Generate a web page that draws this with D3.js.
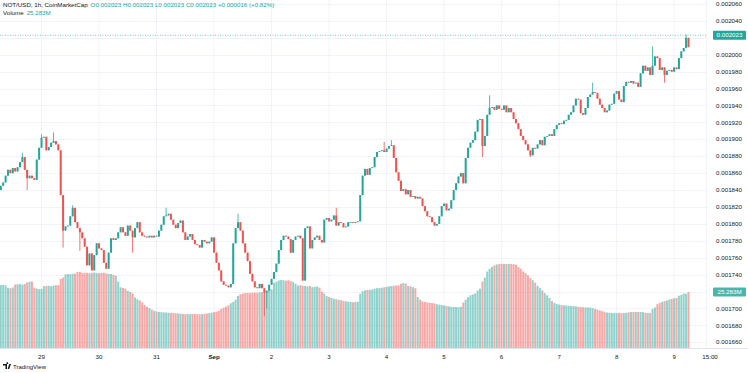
<!DOCTYPE html>
<html lang="en">
<head>
  <meta charset="utf-8">
  <title>NOT/USD, 1h, CoinMarketCap</title>
  <script src="https://cdn.jsdelivr.net/npm/d3@7"></script>
  <style>
    body { margin: 0; background: #fff; }
    svg { display: block; font-family: "Liberation Sans", Arial, sans-serif; }
  </style>
</head>
<body>
<div id="chart"></div>
<script>
// hourly closes, in millionths of a dollar (Aug 28 07:00 -> Sep 9 06:00)
var closes = [
  1845,1849,1857,1864,1860,1866,1862,1867,1873,1879,
  1864,1854,1857,1854,1852,1876,1890,1902,1903,1887,
  1891,1896,1898,1894,1887,1834,1792,1797,1798,1809,
  1819,1802,1795,1790,1783,1773,1751,1765,1745,1763,
  1777,1771,1769,1754,1747,1766,1783,1781,1783,1790,
  1796,1790,1786,1798,1792,1784,1795,1802,1790,1786,
  1785,1784,1786,1784,1786,1785,1792,1799,1809,1810,
  1812,1805,1799,1795,1801,1804,1790,1781,1785,1788,
  1781,1776,1775,1772,1781,1779,1777,1779,1784,1766,
  1754,1745,1732,1728,1727,1725,1729,1777,1795,1802,
  1792,1777,1766,1756,1741,1732,1725,1724,1729,1724,
  1719,1721,1728,1735,1743,1753,1769,1781,1786,1785,
  1782,1766,1781,1785,1786,1783,1733,1795,1797,1771,
  1781,1784,1786,1781,1778,1805,1807,1803,1805,1810,
  1798,1802,1801,1796,1797,1802,1802,1801,1802,1803,
  1834,1857,1865,1858,1866,1867,1879,1885,1886,1887,
  1885,1889,1892,1893,1878,1861,1851,1839,1841,1835,
  1840,1832,1833,1830,1832,1830,1821,1815,1809,1808,
  1802,1798,1800,1809,1821,1824,1816,1818,1828,1840,
  1848,1856,1860,1848,1878,1890,1896,1899,1909,1923,
  1924,1892,1904,1929,1937,1938,1935,1940,1936,1935,
  1940,1932,1937,1932,1924,1919,1912,1904,1899,1894,
  1887,1881,1890,1889,1894,1899,1893,1903,1904,1906,
  1904,1912,1917,1919,1918,1922,1923,1929,1932,1940,
  1948,1947,1931,1929,1937,1950,1953,1956,1955,1948,
  1941,1937,1932,1934,1941,1942,1954,1957,1947,1944,
  1963,1968,1967,1969,1966,1967,1962,1978,1987,1981,
  1985,1976,1987,1998,1996,1982,1985,1976,1981,1982,
  1980,1985,1983,1996,2004,2008,2020,2009
];
var firstOpen = 1840;

// the longer wicks (millionths), keyed by candle index
var highs = { 9: 1884, 17: 1906, 22: 1908, 30: 1822, 69: 1819, 99: 1812, 140: 1819, 160: 1897, 163: 1899, 204: 1952, 247: 1967, 272: 2010, 286: 2024 };
var lows = { 11: 1840, 26: 1772, 33: 1768, 55: 1766, 110: 1691, 111: 1700, 201: 1879, 221: 1879, 277: 1967 };

// volume, millions
var volumes = [
  28.4,28.5,28.3, 27.2,27.0,27.3, 28.7,28.8,28.9,28.6,28.9, 29.6,29.9,30.0, 27.2,
  26.8,26.6,26.7, 27.9,28.0,28.1,27.9,28.2,28.3,28.4, 31.2,31.8,
  33.2,33.4,33.3,33.5,33.6, 34.3,34.4,
  33.9,33.8,34.0,33.7,33.9,34.1,33.8,33.7,33.9,34.0,33.6,33.5,33.4,
  33.0,32.6, 30.0, 27.4,27.1,26.8, 25.8,25.3,24.6, 22.8,22.0,21.5,20.6,
  19.4,18.6,18.0,17.4, 16.8,16.5,16.3,16.2,16.1,16.0, 15.9,15.8,15.8,15.7,15.6,
  15.5,15.4,15.4,15.3,15.4,15.3,15.4,15.3,15.2,15.3,15.4,15.6,15.7,
  15.9,16.2,16.4,16.8, 17.6,18.2,18.7,19.3, 20.2,20.8,21.8,
  23.5,24.3,24.6,24.8,24.9,24.8,24.9,25.0,24.9, 25.2,25.3,25.4,25.5, 26.0,26.5,
  29.5,29.9, 30.5,30.7,30.6,30.4,30.6,30.2,29.8, 29.0,
  28.2,28.4,28.1,28.0,27.8,28.1,27.5,27.6,27.8,27.3, 25.4,24.6,
  23.4,23.0,22.6,22.2,22.0,21.8,21.6,21.3,21.1,20.9, 20.8,20.7,20.8,20.9, 24.5,
  25.6,26.0,26.2,26.3,26.4, 26.8,27.0,27.1,27.2,27.4,27.6, 27.8,28.0,28.1,28.2,28.3,
  29.0,29.3,29.1, 28.0,27.8,27.5,27.0, 23.0,21.8,
  21.0,20.8,20.6,20.4,20.3,20.1, 19.8,19.6,19.4,19.2,19.0,18.8,
  18.6,18.5,18.5,18.4,18.6, 20.5,21.8, 23.0,23.8,24.2,24.6, 26.0,26.8, 30.0,31.8,
  34.5,35.8,36.6, 37.3,37.7,37.9,38.0,38.0,37.9,38.0,37.9,37.8,37.6, 36.6,35.8,
  34.6,33.8,32.8, 31.5,30.6,29.5, 28.0,27.0,26.0, 24.8,23.8,22.6, 21.2,20.4,19.9,
  19.6,19.4,19.3,19.2,19.1,19.0,18.9,18.8, 18.6,18.5,18.4,18.3,18.3,18.2,18.0,
  17.6,17.3,17.0,16.6, 16.2,16.0,15.9,15.8,15.8,15.7,15.8,15.7,15.8,15.9,
  16.1,16.2,16.3,16.3,16.2,16.3,16.2, 15.9,15.8,15.8, 17.6,18.3,
  19.8,20.4,20.8,21.2,21.5, 21.9,22.2,22.4,22.6, 23.6,24.0, 24.6,24.5,25.283
];

var priceTicks = [0.00166, 0.00168, 0.0017, 0.00172, 0.00174, 0.00176, 0.00178, 0.0018, 0.00182,
  0.00184, 0.00186, 0.00188, 0.0019, 0.00192, 0.00194, 0.00196, 0.00198, 0.002, 0.00202, 0.00204, 0.00206];
var dayTicks = ["2023-08-29", "2023-08-30", "2023-08-31", "2023-09-01", "2023-09-02", "2023-09-03",
  "2023-09-04", "2023-09-05", "2023-09-06", "2023-09-07", "2023-09-08", "2023-09-09"];
var dayLabels = ["29", "30", "31", "Sep", "2", "3", "4", "5", "6", "7", "8", "9"];
var lastPrice = 0.002023;
var lastVolume = 25.283;

var W = 748, H = 373;
var plotRight = 706, plotBottom = 348;
var up = "#26a69a", down = "#ef5350";

var t0 = Date.UTC(2023, 7, 28, 7);
var candles = closes.map(function(c, i) {
  var o = i === 0 ? firstOpen : closes[i - 1];
  var h = highs[i] !== undefined ? highs[i] : Math.max(o, c);
  var l = lows[i] !== undefined ? lows[i] : Math.min(o, c);
  return { t: new Date(t0 + i * 3600e3), o: o / 1e6, h: h / 1e6, l: l / 1e6, c: c / 1e6, v: volumes[i] };
});

var x = d3.scaleUtc()
    .domain([candles[0].t, candles[candles.length - 1].t])
    .range([0.8, 688.5]);
var y = d3.scaleLinear().domain([0.00166, 0.00206]).range([342.3, 4]);
var yVol = d3.scaleLinear().domain([0, lastVolume]).range([plotBottom, 292]);

var svg = d3.select("#chart").append("svg")
    .attr("width", W)
    .attr("height", H);

// grid
var dayDates = dayTicks.map(function(d) { return new Date(d + "T00:00:00Z"); });
svg.append("g").selectAll("line.v")
    .data(dayDates)
  .enter().append("line")
    .attr("x1", function(d) { return x(d); })
    .attr("x2", function(d) { return x(d); })
    .attr("y1", 0).attr("y2", plotBottom)
    .attr("stroke", "#f0f3fa");
svg.append("g").selectAll("line.h")
    .data(priceTicks)
  .enter().append("line")
    .attr("x1", 0).attr("x2", plotRight)
    .attr("y1", function(d) { return Math.round(y(d)) + 0.5; })
    .attr("y2", function(d) { return Math.round(y(d)) + 0.5; })
    .attr("stroke", "#f0f3fa");

// volume
svg.append("g").selectAll("rect")
    .data(candles)
  .enter().append("rect")
    .attr("x", function(d) { return x(d.t) - 1; })
    .attr("width", 2)
    .attr("y", function(d) { return yVol(d.v); })
    .attr("height", function(d) { return plotBottom - yVol(d.v); })
    .attr("fill", function(d) { return d.c >= d.o ? "rgba(38,166,154,0.5)" : "rgba(239,83,80,0.5)"; });

// candles
var cg = svg.append("g");
cg.selectAll("line")
    .data(candles)
  .enter().append("line")
    .attr("x1", function(d) { return x(d.t); })
    .attr("x2", function(d) { return x(d.t); })
    .attr("y1", function(d) { return y(d.h); })
    .attr("y2", function(d) { return y(d.l); })
    .attr("stroke", function(d) { return d.c >= d.o ? up : down; })
    .attr("stroke-width", 0.8);
cg.selectAll("rect")
    .data(candles)
  .enter().append("rect")
    .attr("x", function(d) { return x(d.t) - 1; })
    .attr("width", 2)
    .attr("y", function(d) { return y(Math.max(d.o, d.c)); })
    .attr("height", function(d) { return Math.max(0.8, Math.abs(y(d.o) - y(d.c))); })
    .attr("fill", function(d) { return d.c >= d.o ? up : down; });

// last price line
svg.append("line")
    .attr("x1", 0).attr("x2", plotRight)
    .attr("y1", y(lastPrice)).attr("y2", y(lastPrice))
    .attr("stroke", up).attr("stroke-width", 0.6)
    .attr("stroke-dasharray", "1,1.5");

// price axis (labels hidden where a tag sits)
var tagYs = [y(lastPrice), yVol(lastVolume)];
svg.append("line")
    .attr("x1", plotRight + 0.5).attr("x2", plotRight + 0.5)
    .attr("y1", 0).attr("y2", plotBottom)
    .attr("stroke", "#f0f3fa");
svg.append("g").selectAll("text")
    .data(priceTicks.filter(function(d) {
      return tagYs.every(function(ty) { return Math.abs(y(d) - ty) > 9; });
    }))
  .enter().append("text")
    .attr("x", 729).attr("y", function(d) { return y(d); })
    .attr("dy", "0.35em")
    .attr("text-anchor", "middle")
    .attr("font-size", 6.2)
    .attr("fill", "#131722")
    .text(function(d) { return d3.format(".6f")(d); });

function axisTag(val, yPos, fill) {
  svg.append("rect")
      .attr("x", 713).attr("y", yPos - 4.5)
      .attr("width", 33).attr("height", 9)
      .attr("rx", 1)
      .attr("fill", fill);
  svg.append("text")
      .attr("x", 729.5).attr("y", yPos)
      .attr("dy", "0.35em")
      .attr("text-anchor", "middle")
      .attr("font-size", 6.2)
      .attr("fill", "#fff")
      .text(val);
}
axisTag(d3.format(".6f")(lastPrice), y(lastPrice), up);
axisTag(lastVolume.toFixed(3) + "M", yVol(lastVolume), "#4cb5ab");

// time axis
svg.append("line")
    .attr("x1", 0).attr("x2", W)
    .attr("y1", plotBottom + 0.5).attr("y2", plotBottom + 0.5)
    .attr("stroke", "#e0e3eb");
svg.append("g").selectAll("text")
    .data(dayDates)
  .enter().append("text")
    .attr("x", function(d) { return x(d); })
    .attr("y", 357)
    .attr("dy", "0.35em")
    .attr("text-anchor", "middle")
    .attr("font-size", 6.2)
    .attr("font-weight", function(d, i) { return dayLabels[i] === "Sep" ? "bold" : null; })
    .attr("fill", "#131722")
    .text(function(d, i) { return dayLabels[i]; });
svg.append("text")
    .attr("x", x(new Date(Date.UTC(2023, 8, 9, 15))))
    .attr("y", 357).attr("dy", "0.35em")
    .attr("text-anchor", "middle")
    .attr("font-size", 6.2)
    .attr("fill", "#131722")
    .text("15:00");

// legend
var head = svg.append("text").attr("x", 3).attr("y", 7).attr("font-size", 6.2).attr("fill", "#131722");
head.append("tspan").text("NOT/USD, 1h, CoinMarketCap");
head.append("tspan").attr("fill", up).attr("dx", 3)
    .text("O0.002023  H0.002023  L0.002023  C0.002023  +0.000016 (+0.82%)");
var vLine = svg.append("text").attr("x", 3).attr("y", 15).attr("font-size", 6.2).attr("fill", "#131722");
vLine.append("tspan").text("Volume");
vLine.append("tspan").attr("fill", up).attr("dx", 3).text(lastVolume.toFixed(3) + "M");

// logo
var logo = svg.append("g").attr("transform", "translate(3,364)");
logo.append("path").attr("d", "M0,0H4V5H2.5V1.5H0Z M4.6,5L6.3,0H8L6.2,5Z M4.3,0A0.9,0.9 0 1 1 4.31,0").attr("fill", "#131722");
logo.append("text").attr("x", 10).attr("y", 4.6).attr("font-size", 6).attr("fill", "#131722").text("TradingView");
</script>
</body>
</html>
